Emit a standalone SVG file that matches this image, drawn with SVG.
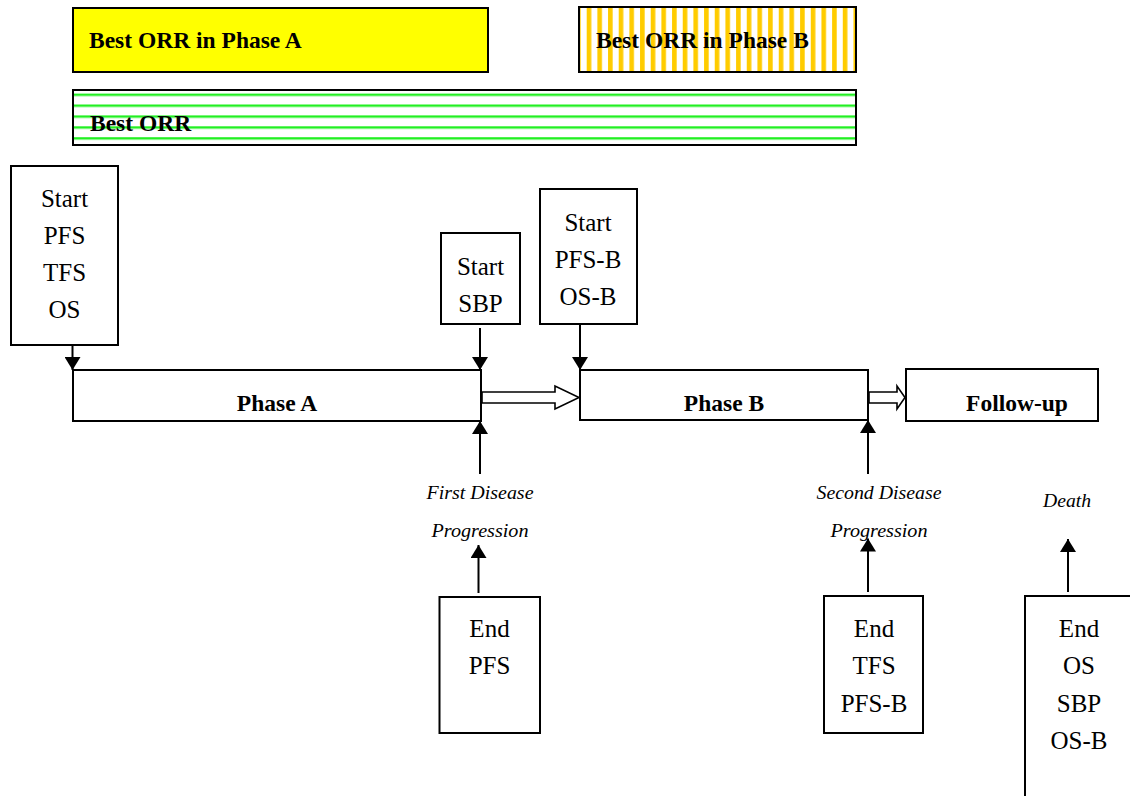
<svg xmlns="http://www.w3.org/2000/svg" width="1130" height="796" viewBox="0 0 1130 796">
<style>
.box{fill:#fff;stroke:#000;stroke-width:2}
.t{font-family:"Liberation Serif","Times New Roman",serif;font-size:25px;fill:#000;text-anchor:middle}
.b{font-family:"Liberation Serif","Times New Roman",serif;font-size:23.5px;font-weight:bold;fill:#000}
.i{font-family:"Liberation Serif","Times New Roman",serif;font-size:18px;font-style:italic;fill:#000;text-anchor:middle}
.c{stroke:#000;stroke-width:2;fill:none}
.h{fill:#fff;stroke:#000;stroke-width:1.6}
</style>
<defs>
<marker id="ah" markerUnits="userSpaceOnUse" markerWidth="13" markerHeight="16" viewBox="0 0 13 16" refX="13" refY="8" orient="auto">
<path d="M0,0 L13,8 L0,16 z" fill="#000"/>
</marker>
<pattern id="vstripe" patternUnits="userSpaceOnUse" x="586.7" y="0" width="10.67" height="10">
<rect x="0" y="0" width="10.67" height="10" fill="#fff"/>
<rect x="0" y="0" width="4.6" height="10" fill="#FFCC00"/>
</pattern>
<pattern id="hstripe" patternUnits="userSpaceOnUse" x="0" y="93.6" width="10" height="10.9">
<rect x="0" y="0" width="10" height="10.9" fill="#fff"/>
<rect x="0" y="0" width="10" height="2.4" fill="#22F022"/>
</pattern>
</defs>

<g id="orr-a">
<rect x="73" y="8" width="415" height="64" fill="#FFFF00" stroke="#000" stroke-width="2"/>
<text class="b" x="89" y="48">Best ORR in Phase A</text>
</g>
<g id="orr-b">
<rect x="579" y="7" width="277" height="65" fill="url(#vstripe)" stroke="#000" stroke-width="2"/>
<text class="b" x="596" y="48">Best ORR in Phase B</text>
</g>
<g id="orr">
<rect x="73" y="90" width="783" height="55" fill="url(#hstripe)" stroke="#000" stroke-width="2"/>
<text class="b" x="90" y="131">Best ORR</text>
</g>

<g id="start-pfs">
<rect class="box" x="11" y="166" width="107" height="179"/>
<text class="t" x="64.5" y="207">Start</text>
<text class="t" x="64.5" y="244">PFS</text>
<text class="t" x="64.5" y="281">TFS</text>
<text class="t" x="64.5" y="318">OS</text>
</g>
<g id="start-sbp">
<rect class="box" x="441" y="233" width="79" height="91"/>
<text class="t" x="480.5" y="275">Start</text>
<text class="t" x="480.5" y="312">SBP</text>
</g>
<g id="start-pfsb">
<rect class="box" x="540" y="189" width="97" height="135"/>
<text class="t" x="588" y="231">Start</text>
<text class="t" x="588" y="268">PFS-B</text>
<text class="t" x="588" y="305">OS-B</text>
</g>

<g id="phase-a">
<rect class="box" x="73" y="370" width="408" height="51"/>
<text class="b" x="277" y="411" text-anchor="middle">Phase A</text>
</g>
<g id="phase-b">
<rect class="box" x="580" y="370" width="288" height="50"/>
<text class="b" x="724" y="411" text-anchor="middle">Phase B</text>
</g>
<g id="follow-up">
<rect class="box" x="906" y="369" width="192" height="52"/>
<text class="b" x="1017" y="411" text-anchor="middle">Follow-up</text>
</g>

<g id="first-progression">
<text class="i" x="480" y="499" textLength="107" lengthAdjust="spacingAndGlyphs">First Disease</text>
<text class="i" x="480" y="537" textLength="97" lengthAdjust="spacingAndGlyphs">Progression</text>
</g>
<g id="second-progression">
<text class="i" x="879" y="499" textLength="125" lengthAdjust="spacingAndGlyphs">Second Disease</text>
<text class="i" x="879" y="537" textLength="97" lengthAdjust="spacingAndGlyphs">Progression</text>
</g>
<g id="death">
<text class="i" x="1067" y="507" textLength="48" lengthAdjust="spacingAndGlyphs">Death</text>
</g>

<g id="end-pfs">
<rect class="box" x="439.5" y="597" width="100.5" height="136"/>
<text class="t" x="489.5" y="637">End</text>
<text class="t" x="489.5" y="674">PFS</text>
</g>
<g id="end-tfs">
<rect class="box" x="824" y="596" width="99" height="137"/>
<text class="t" x="874" y="637">End</text>
<text class="t" x="874" y="674">TFS</text>
<text class="t" x="874" y="711.5">PFS-B</text>
</g>
<g id="end-os">
<rect class="box" x="1025" y="596" width="130" height="230"/>
<text class="t" x="1079" y="637">End</text>
<text class="t" x="1079" y="674">OS</text>
<text class="t" x="1079" y="711.5">SBP</text>
<text class="t" x="1079" y="748.5">OS-B</text>
</g>

<g id="connectors">
<line class="c" x1="72.5" y1="345" x2="72.5" y2="370" marker-end="url(#ah)"/>
<line class="c" x1="480" y1="328" x2="480" y2="370" marker-end="url(#ah)"/>
<line class="c" x1="580" y1="324" x2="580" y2="370" marker-end="url(#ah)"/>
<line class="c" x1="480" y1="474" x2="480" y2="421" marker-end="url(#ah)"/>
<line class="c" x1="868" y1="474" x2="868" y2="420" marker-end="url(#ah)"/>
<line class="c" x1="478.5" y1="593" x2="478.5" y2="545" marker-end="url(#ah)"/>
<line class="c" x1="868" y1="592" x2="868" y2="538.5" marker-end="url(#ah)"/>
<line class="c" x1="1068" y1="592" x2="1068" y2="539" marker-end="url(#ah)"/>
<polygon class="h" points="482,392 555,392 555,386 579,397.5 555,409 555,403 482,403"/>
<polygon class="h" points="869,392 897,392 897,386 905,397.5 897,409 897,403 869,403"/>
</g>
</svg>
